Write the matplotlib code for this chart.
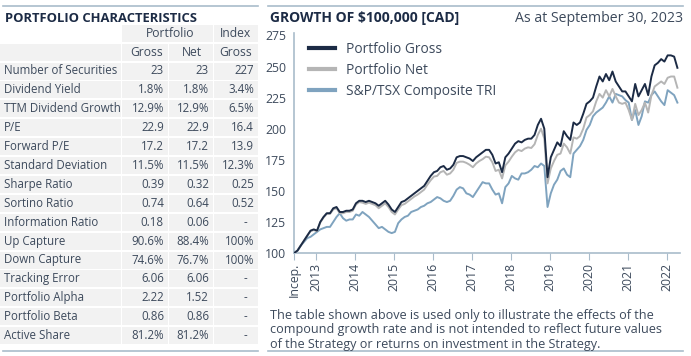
import numpy as np
import matplotlib
matplotlib.use("Agg")
import matplotlib.pyplot as plt
from matplotlib.patches import Rectangle

plt.rcParams['font.family'] = ['Open Sans', 'DejaVu Sans']

# ---- table data ----
row_labels = ['Number of Securities', 'Dividend Yield', 'TTM Dividend Growth', 'P/E',
              'Forward P/E', 'Standard Deviation', 'Sharpe Ratio', 'Sortino Ratio',
              'Information Ratio', 'Up Capture', 'Down Capture', 'Tracking Error',
              'Portfolio Alpha', 'Portfolio Beta', 'Active Share']
port_gross = ['23', '1.8%', '12.9%', '22.9', '17.2', '11.5%', '0.39', '0.74',
              '0.18', '90.6%', '74.6%', '6.06', '2.22', '0.86', '81.2%']
port_net = ['23', '1.8%', '12.9%', '22.9', '17.2', '11.5%', '0.32', '0.64',
            '0.06', '88.4%', '76.7%', '6.06', '1.52', '0.86', '81.2%']
index_gross = ['227', '3.4%', '6.5%', '16.4', '13.9', '12.3%', '0.25', '0.52',
               '-', '100%', '100%', '-', '-', '-', '-']

# ---- growth of $100,000 (in thousands), monthly ----
gross = [100, 102, 106, 110, 114, 118, 119, 118, 125, 129,
         132, 132, 136, 137, 133, 133, 134, 134, 135, 140,
         142, 142, 141, 142, 141, 140, 138, 140, 142, 139,
         135, 133, 137, 141, 142, 144, 146, 148, 150, 152,
         154, 158, 162, 165, 166, 169, 170, 167, 168, 171,
         177, 178, 178, 177, 176, 174, 177, 179, 181, 183,
         183, 179, 172, 173, 165, 177, 180, 184, 188, 190,
         189, 191, 192, 192, 195, 203, 208, 200, 161, 177,
         183, 189, 186, 198, 194, 191, 205, 203, 205, 212,
         220, 222, 225, 234, 242, 238, 244, 239, 246, 238,
         234, 230, 230, 226, 222, 236, 226, 231, 236, 227,
         242, 251, 253, 256, 254, 259, 259, 258, 249]
net = [100, 102, 106, 110, 114, 117.5, 118.5, 117.5, 124.5, 128.5,
       131.5, 131.5, 135, 136, 132, 132, 133, 133, 134, 139,
       141, 140.5, 139.5, 140.5, 139.5, 138.5, 136, 138, 140, 137,
       133, 131, 135, 138.5, 139.5, 141.5, 143.5, 145.5, 147, 149,
       151, 155, 158.5, 161.5, 162, 165, 166, 163, 164, 167,
       172.5, 173.5, 173.5, 172.5, 171, 169, 172, 174, 175.5, 177.5,
       177, 173, 166, 167, 160, 170.5, 173.5, 177.5, 181, 183,
       182, 184, 185, 184.5, 187.5, 195, 200, 192, 156, 168,
       174, 179, 180, 188, 185, 180, 193, 192, 194, 200,
       209, 211, 214, 222, 228, 225, 231, 226, 232, 226,
       221, 220, 221, 215, 207, 220, 211, 215, 221, 213,
       227, 234, 236, 238, 236, 241, 242, 242, 233]
tsx = [100, 102, 106, 109, 112, 113, 115, 117, 119, 120,
       121, 121, 125, 129, 132, 128, 126, 127, 127, 131,
       130, 133, 131, 129, 126, 123, 120, 121, 119, 117,
       116, 117, 124, 127, 129, 130, 133, 134, 135, 137,
       138, 140, 141, 143, 145, 144, 142, 141, 142, 146,
       151, 153, 152, 148, 147, 145, 149, 153, 157, 156,
       156, 151, 147, 148, 140, 153, 156, 162, 160, 159,
       164, 164, 165, 167, 170, 169, 172, 170, 137, 148,
       155, 159, 166, 168, 163, 161, 180, 183, 186, 191,
       199, 203, 210, 213, 215, 217, 221, 226, 221, 228,
       227, 226, 223, 221, 207, 215, 203, 210, 222, 221,
       227, 230, 226, 222, 219, 231, 229, 227, 221]
x_labels = ['Incep.', '2013', '2014', '2015', '2016', '2017', '2018', '2019',
            '2020', '2021', '2022']
footnote = ['The table shown above is used only to illustrate the effects of the',
            'compound growth rate and is not intended to reflect future values',
            'of the Strategy or returns on investment in the Strategy.']

navy = '#1c2b45'
txt = '#3d4a5c'
rule = '#a9bccb'
cell = '#f2f2f2'

W, H = 691, 356
fig = plt.figure(figsize=(W / 100, H / 100), dpi=100)

# background axes in pixel coordinates
bg = fig.add_axes([0, 0, 1, 1])
bg.set_xlim(0, W)
bg.set_ylim(H, 0)
bg.axis('off')

# rules
for x0, x1 in [(3, 258), (268, 683)]:
    bg.plot([x0, x1], [6, 6], color=rule, lw=1.2)
    bg.plot([x0, x1], [351, 351], color=rule, lw=1.2)

bg.text(5, 18, 'PORTFOLIO CHARACTERISTICS', fontsize=9.4, fontweight='bold',
        color=navy, va='center', ha='left')
bg.text(270, 18, 'GROWTH OF $100,000 [CAD]', fontsize=10, fontweight='bold',
        color=navy, va='center', ha='left')
bg.text(683, 18, 'As at September 30, 2023', fontsize=10.2, color=txt,
        va='center', ha='right')

# table cells
cols = [(0, 121), (122, 168), (169, 213), (214, 258)]
pitch = 18.9
first_y = 71
ch = 17
# header rows
hy1 = first_y - 2 * pitch
hy2 = first_y - pitch
bg.add_patch(Rectangle((122, hy1 - ch / 2), 213 - 122, ch, color=cell, lw=0))
bg.add_patch(Rectangle((214, hy1 - ch / 2), 44, ch, color=cell, lw=0))
for c0, c1 in cols:
    bg.add_patch(Rectangle((c0, hy2 - ch / 2), c1 - c0, ch, color=cell, lw=0))
fs = 8.3
bg.text(170, hy1, 'Portfolio', fontsize=fs + 0.4, color=txt, ha='center', va='center')
bg.text(236, hy1, 'Index', fontsize=fs + 0.4, color=txt, ha='center', va='center')
bg.text(147, hy2, 'Gross', fontsize=fs + 0.4, color=txt, ha='center', va='center')
bg.text(192, hy2, 'Net', fontsize=fs + 0.4, color=txt, ha='center', va='center')
bg.text(236, hy2, 'Gross', fontsize=fs + 0.4, color=txt, ha='center', va='center')

for i, lab in enumerate(row_labels):
    y = first_y + i * pitch
    for c0, c1 in cols:
        bg.add_patch(Rectangle((c0, y - ch / 2), c1 - c0, ch, color=cell, lw=0))
    bg.text(4, y, lab, fontsize=fs, color=txt, ha='left', va='center')
    bg.text(164, y, port_gross[i], fontsize=fs, color=txt, ha='right', va='center')
    bg.text(209, y, port_net[i], fontsize=fs, color=txt, ha='right', va='center')
    if index_gross[i] == '-':
        bg.text(245, y, '-', fontsize=fs, color=txt, ha='center', va='center')
    else:
        bg.text(254, y, index_gross[i], fontsize=fs, color=txt, ha='right', va='center')

for j, line in enumerate(footnote):
    bg.text(270, 315.5 + j * 14.3, line, fontsize=9.1, color=txt, ha='left', va='center')

# ---- line chart ----
x0, x1, ytop, ybot = 294.3, 680, 33, 253
ax = fig.add_axes([x0 / W, 1 - ybot / H, (x1 - x0) / W, (ybot - ytop) / H])
m = np.arange(len(gross))
ax.plot(m, tsx, color='#7fa3bf', lw=1.4, label='S&P/TSX Composite TRI', zorder=2)
ax.plot(m, net, color='#b5b5b5', lw=1.4, label='Portfolio Net', zorder=3)
ax.plot(m, gross, color=navy, lw=1.4, label='Portfolio Gross', zorder=4)

ax.set_xlim(0, 118.8)
ax.set_ylim(100, 277)
ax.set_yticks([100, 125, 150, 175, 200, 225, 250, 275])
ticks = [0] + [6.7 + 12 * k for k in range(len(x_labels) - 1)]
ax.set_xticks(ticks)
ax.set_xticklabels(x_labels, rotation=90, fontsize=8.8, color=txt)
ax.tick_params(axis='x', length=5, color=rule, pad=2)
ax.tick_params(axis='y', length=0, pad=6, labelsize=8.8, labelcolor=txt)
for s in ['top', 'right']:
    ax.spines[s].set_visible(False)
for s in ['left', 'bottom']:
    ax.spines[s].set_color(rule)
    ax.spines[s].set_linewidth(1.2)
ax.patch.set_alpha(0)

h, l = ax.get_legend_handles_labels()
leg = ax.legend(h[::-1], l[::-1], loc='upper left', bbox_to_anchor=(0.005, 1.015),
                frameon=False, fontsize=9.9, handlelength=1.9, handletextpad=0.8,
                labelspacing=0.42, labelcolor=txt)
for ln in leg.get_lines():
    ln.set_linewidth(3)

fig.savefig('out.png', dpi=100)
